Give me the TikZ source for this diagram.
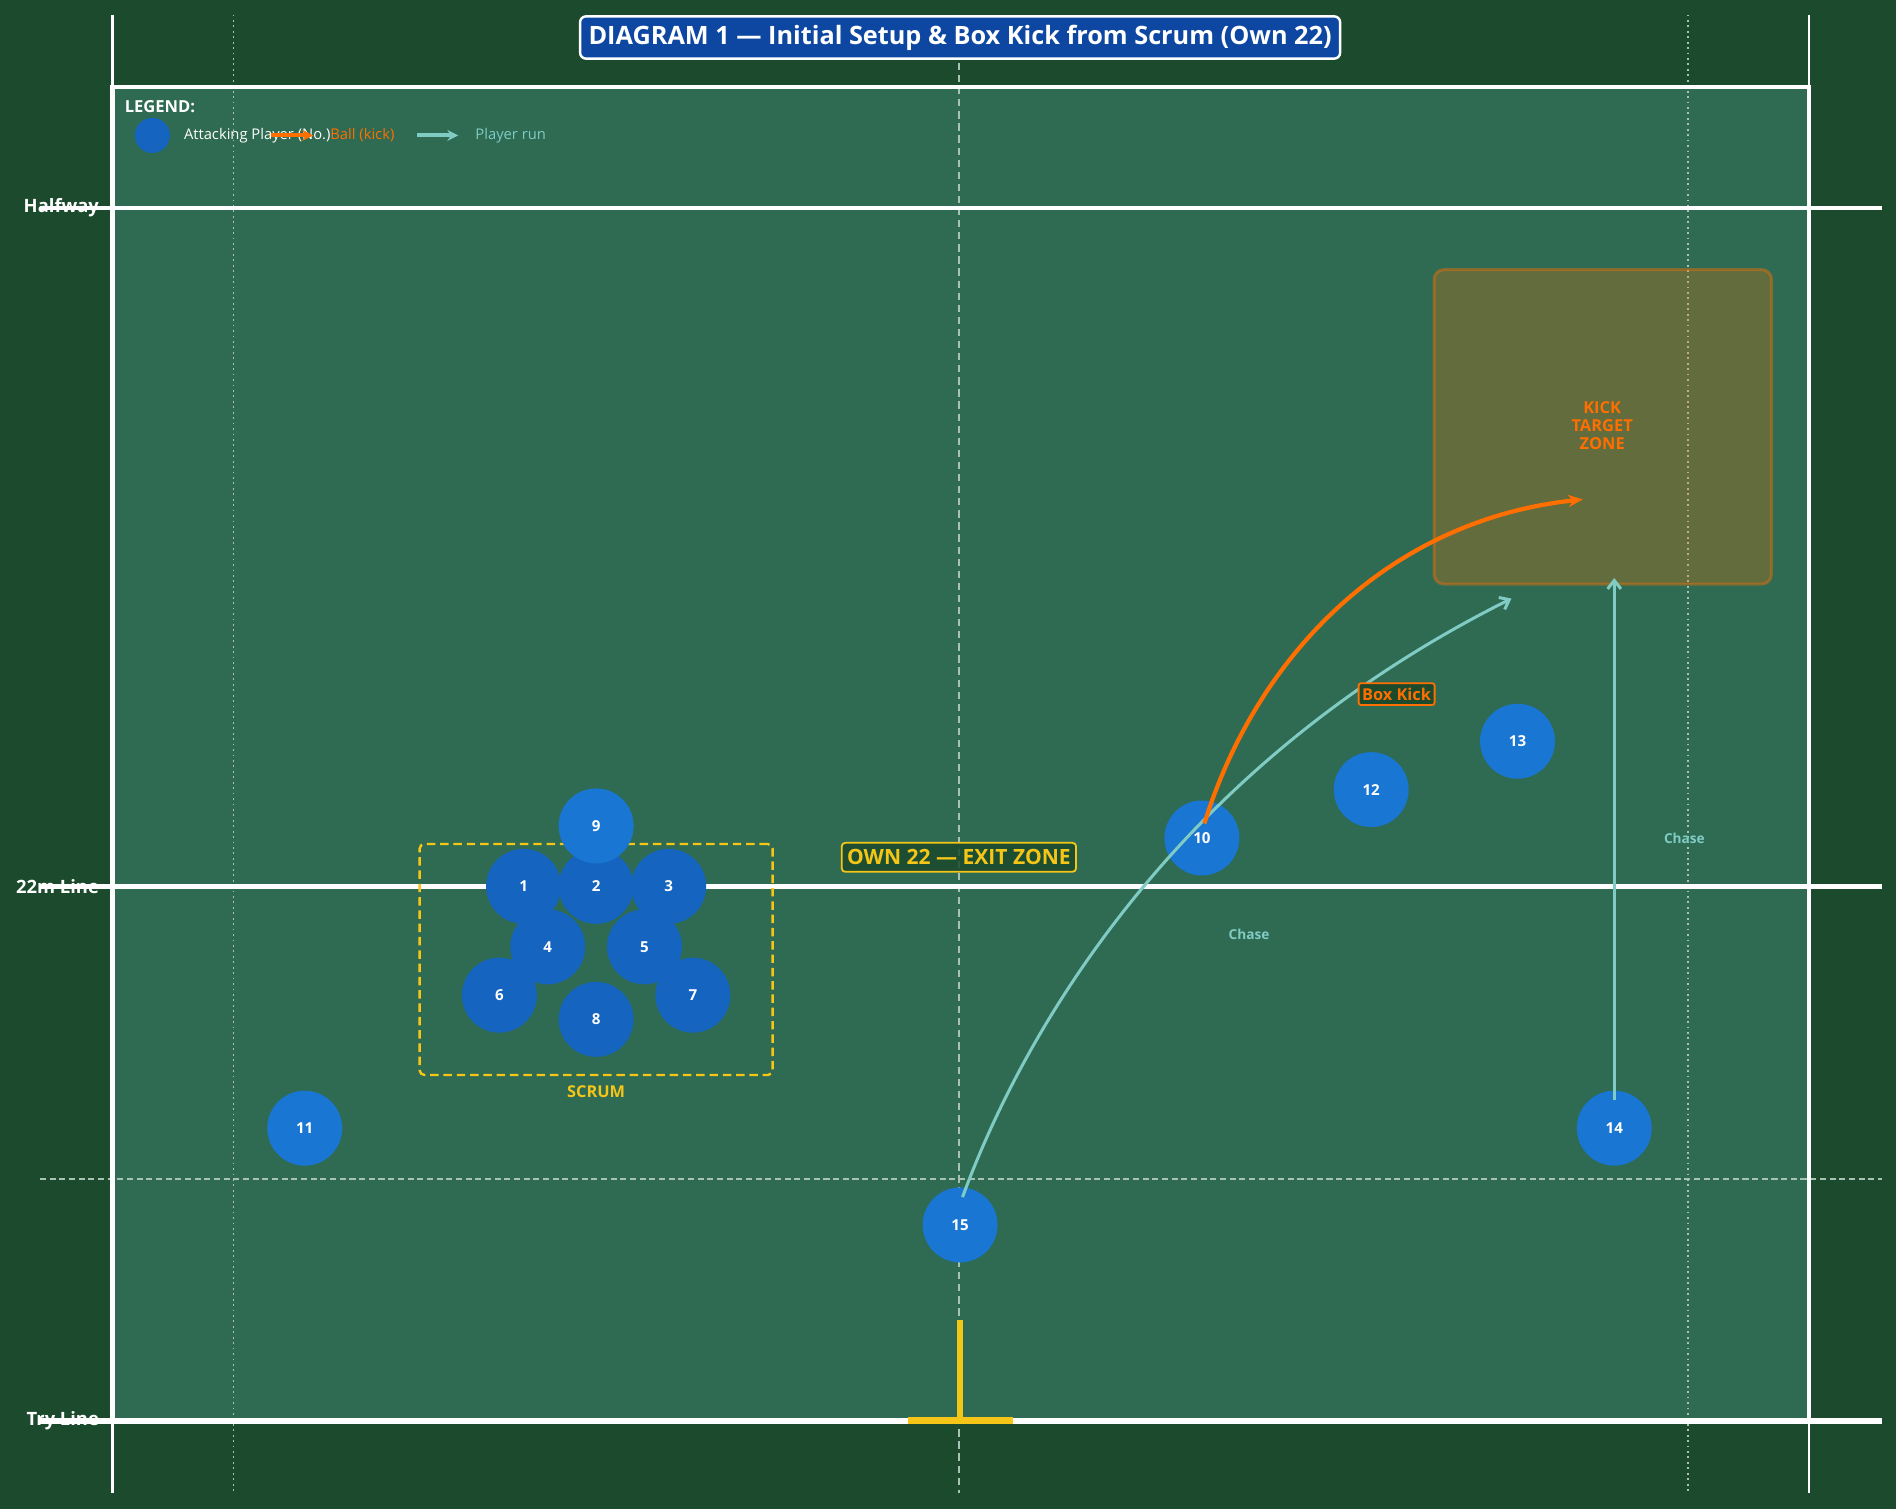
\documentclass[tikz,border=0pt]{standalone}
\usepackage{fontspec}
\setmainfont{Open Sans}
\usetikzlibrary{arrows.meta}
\definecolor{bgdark}{HTML}{1B4A2C}
\definecolor{field}{HTML}{2E6B52}
\definecolor{fwdblue}{HTML}{1565C0}
\definecolor{backblue}{HTML}{1976D2}
\definecolor{kick}{HTML}{FF6F00}
\definecolor{runteal}{HTML}{80CBC4}
\definecolor{gold}{HTML}{F5C518}
\definecolor{titleblue}{HTML}{0D47A1}
\definecolor{guide}{HTML}{A8C2B6}
\tikzset{
  player/.style={circle, minimum size=62pt, inner sep=0pt, text=white, font=\fontsize{12.5}{14}\selectfont\bfseries},
  fwd/.style={player, fill=fwdblue},
  back/.style={player, fill=backblue},
  linelabel/.style={anchor=east, text=white, font=\fontsize{15.2}{17}\selectfont\bfseries, inner sep=0pt},
  chaselabel/.style={text=runteal, font=\fontsize{11.3}{13}\selectfont\bfseries, inner sep=0pt},
  legtext/.style={anchor=west, font=\fontsize{12.2}{14}\selectfont, inner sep=0pt},
  kickarrow/.style={draw=kick, line width=3.5pt, -{Stealth[length=12pt,width=10pt]}},
  runarrow/.style={draw=runteal, line width=2.5pt, -{Straight Barb[length=7pt,width=11pt,line width=2.5pt]}},
}
\begin{document}
\begin{tikzpicture}[x=1pt,y=-1pt]
% background and field
\fill[bgdark] (0,0) rectangle (1568,1248);
\useasboundingbox (0,0) rectangle (1568,1248);
\fill[field] (93,72) rectangle (1496,1175);
% guide lines
\draw[guide, line width=1pt, dash pattern=on 1.5pt off 3pt] (193,12) -- (193,1235);
\draw[guide, line width=1pt, dash pattern=on 1.5pt off 3pt] (1396,12) -- (1396,1235);
\draw[guide, line width=1pt, dash pattern=on 6pt off 4pt] (793,12) -- (793,1235);
\draw[guide, line width=1.8pt, dash pattern=on 5pt off 3pt] (33,975) -- (1556,975);
% touchlines and field border
\draw[white, line width=2pt] (93,12) -- (93,1235);
\draw[white, line width=2pt] (1496,12) -- (1496,1235);
\draw[white, line width=4pt] (93,72) rectangle (1496,1175);
\draw[white, line width=3pt] (33,172) -- (1556,172);
\draw[white, line width=4pt] (33,733) -- (1556,733);
\draw[white, line width=5pt] (33,1175) -- (1556,1175);
\node[linelabel] (lhalf) at (82,172) {Halfway};
\node[linelabel] (l22) at (82,733) {22m Line};
\node[linelabel] (ltry) at (82,1175) {Try Line};
% goal posts
\draw[gold, line width=4.5pt] (794,1092) -- (794,1175);
\draw[gold, line width=6pt] (751,1175) -- (838,1175);
% title
\node[fill=titleblue, draw=white, line width=2pt, rounded corners=5pt, text=white,
      font=\fontsize{20.9}{23}\selectfont\bfseries, minimum height=35pt, inner xsep=7pt, inner ysep=0pt] (title) at (794,31)
  {DIAGRAM 1 — Initial Setup \& Box Kick from Scrum (Own 22)};
% legend
\node[anchor=west, text=white, font=\fontsize{13.7}{15}\selectfont\bfseries, inner sep=0pt] (leg) at (103,88) {LEGEND:};
\node[circle, fill=fwdblue, minimum size=29pt, inner sep=0pt] (legp) at (126,112) {};
\node[legtext, text=white] (legpt) at (152,112) {Attacking Player (No.)};
\coordinate (lka) at (224,112);
\coordinate (lkb) at (259,112);
\draw[draw=kick, line width=3.3pt, -{Stealth[length=9pt,width=9pt]}] (lka) -- (lkb);
\node[legtext, text=kick] (legkt) at (273,112) {Ball (kick)};
\coordinate (lra) at (345,112);
\coordinate (lrb) at (379,112);
\draw[draw=runteal, line width=3.3pt, -{Stealth[length=9pt,width=9pt]}] (lra) -- (lrb);
\node[legtext, text=runteal] (legrt) at (393,112) {Player run};
% kick target zone
\node[fill=kick, fill opacity=0.25, draw=kick, draw opacity=0.4, line width=2.5pt, rounded corners=8pt,
      minimum width=279pt, minimum height=260pt] (zone) at (1325.5,353) {};
\node[text=kick, align=center, font=\fontsize{13.6}{15}\selectfont\bfseries] (zonet) at (1325,352) {KICK\\TARGET\\ZONE};
% scrum box
\node[draw=gold, line width=2pt, dash pattern=on 7pt off 4pt, rounded corners=4pt,
      minimum width=292pt, minimum height=191pt] (scrumbox) at (493,793.5) {};
\node[text=gold, font=\fontsize{13.5}{15}\selectfont\bfseries] (scrumt) at (493,903) {SCRUM};
% exit zone label
\node[fill=bgdark, fill opacity=0.85, text opacity=1, draw=gold, line width=1.5pt, rounded corners=3pt,
      text=gold, font=\fontsize{17.4}{19}\selectfont\bfseries, inner xsep=4.5pt, inner ysep=0pt, minimum height=24pt] (exit) at (793,709)
  {OWN 22 — EXIT ZONE};
% players
\node[fwd] (p2) at (493,733) {2};
\node[fwd] (p1) at (433,733) {1};
\node[fwd] (p3) at (553,733) {3};
\node[fwd] (p4) at (453,783) {4};
\node[fwd] (p5) at (533,783) {5};
\node[fwd] (p6) at (413,823) {6};
\node[fwd] (p7) at (573,823) {7};
\node[fwd] (p8) at (493,843) {8};
\node[back] (p9) at (493,683) {9};
\node[back] (p10) at (994,693) {10};
\node[back] (p11) at (252,933) {11};
\node[back] (p12) at (1134,653) {12};
\node[back] (p13) at (1255,613) {13};
\node[back] (p14) at (1335,933) {14};
\node[back] (p15) at (794,1013) {15};
% runs and kick
\coordinate (r15a) at (796,990);
\coordinate (r15b) at (1250,495);
\draw[runarrow] (r15a) .. controls (840,870) and (960,640) .. (r15b);
\coordinate (r14a) at (1335,910);
\coordinate (r14b) at (1335,478);
\draw[runarrow] (r14a) -- (r14b);
\coordinate (k10a) at (996,681);
\coordinate (k10b) at (1309,413);
\draw[kickarrow] (k10a) .. controls (1040,540) and (1150,430) .. (k10b);
% labels
\node[fill=bgdark, draw=kick, line width=1.5pt, rounded corners=2pt, text=kick,
      font=\fontsize{13.5}{15}\selectfont\bfseries, inner xsep=3pt, inner ysep=0pt, minimum height=18pt] (boxkick) at (1155,574) {Box Kick};
\node[chaselabel] (chase1) at (1033,773) {Chase};
\node[chaselabel] (chase2) at (1393,693) {Chase};
\end{tikzpicture}
\end{document}
